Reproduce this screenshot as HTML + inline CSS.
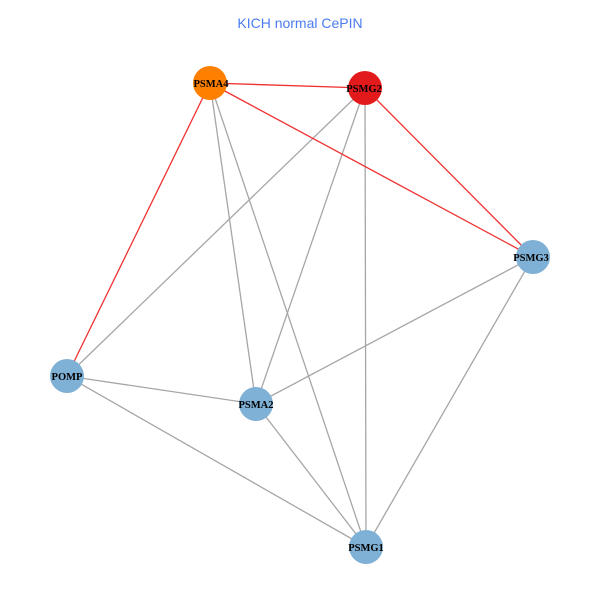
<!DOCTYPE html>
<html><head><style>body{margin:0;background:#fff}svg{display:block}</style></head>
<body>
<svg width="600" height="600" xmlns="http://www.w3.org/2000/svg">
<text x="300" y="28" text-anchor="middle" font-family="Liberation Sans, sans-serif" font-size="14" fill="#4a7cf0">KICH normal CePIN</text>
<g stroke="#a6a6a6" stroke-width="1.3">
<line x1="365" y1="88" x2="67" y2="376"/>
<line x1="365" y1="88" x2="256" y2="404"/>
<line x1="365" y1="88" x2="366" y2="547"/>
<line x1="210" y1="83" x2="256" y2="404"/>
<line x1="210" y1="83" x2="366" y2="547"/>
<line x1="533" y1="257" x2="256" y2="404"/>
<line x1="533" y1="257" x2="366" y2="547"/>
<line x1="67" y1="376" x2="256" y2="404"/>
<line x1="67" y1="376" x2="366" y2="547"/>
<line x1="256" y1="404" x2="366" y2="547"/>
</g>
<g stroke="#f03030" stroke-width="1.3">
<line x1="210" y1="83" x2="365" y2="88"/>
<line x1="210" y1="83" x2="533" y2="257"/>
<line x1="210" y1="83" x2="67" y2="376"/>
<line x1="365" y1="88" x2="533" y2="257"/>
</g>
<circle cx="210" cy="83" r="17" fill="#ff7f00"/>
<circle cx="365" cy="88" r="17" fill="#e31a1c"/>
<circle cx="533" cy="257" r="17" fill="#7fb0d5"/>
<circle cx="67" cy="376" r="17" fill="#7fb0d5"/>
<circle cx="256" cy="404" r="17" fill="#7fb0d5"/>
<circle cx="366" cy="547" r="17" fill="#7fb0d5"/>
<g font-family="Liberation Serif, serif" font-weight="bold" font-size="10.5" fill="#000" text-anchor="middle">
<text x="211" y="87">PSMA4</text>
<text x="364" y="92">PSMG2</text>
<text x="531" y="261">PSMG3</text>
<text x="67" y="380">POMP</text>
<text x="256" y="408">PSMA2</text>
<text x="366" y="551">PSMG1</text>
</g>
</svg>
</body></html>
